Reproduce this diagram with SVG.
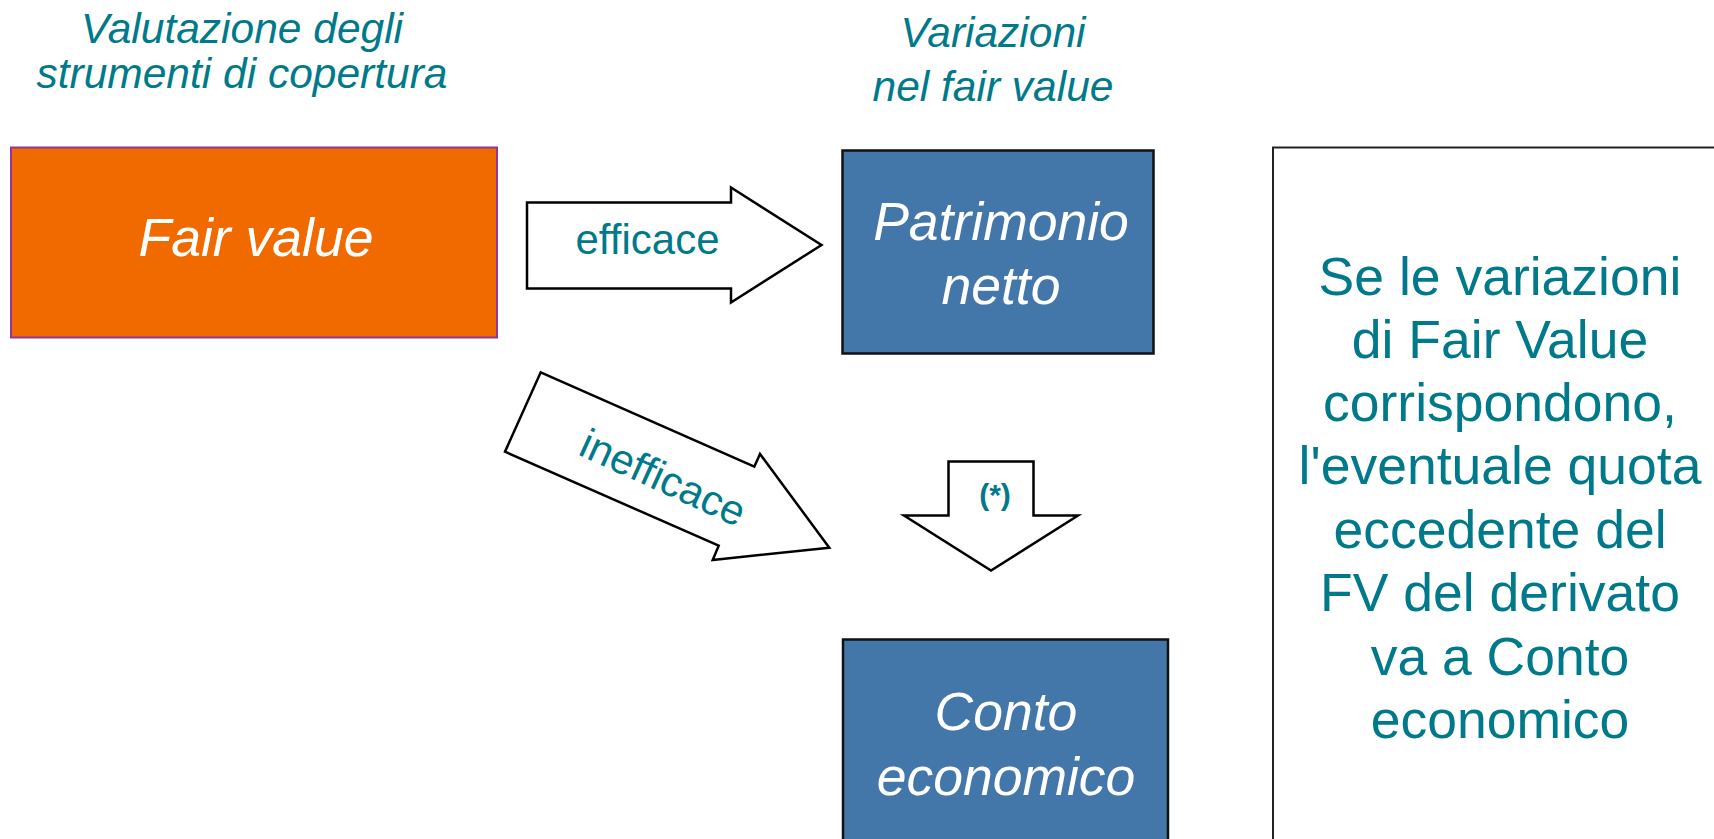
<svg xmlns="http://www.w3.org/2000/svg" width="1714" height="839" viewBox="0 0 1714 839">
  <style>
    .hdr { font-family: "Liberation Sans", Arial, sans-serif; font-style: italic; font-size: 42.5px; fill: #007A8A; text-anchor: middle; }
    .boxtxt { font-family: "Liberation Sans", Arial, sans-serif; font-style: italic; font-size: 53.5px; fill: #FFFFFF; text-anchor: middle; }
    .lbl { font-family: "Liberation Sans", Arial, sans-serif; font-size: 42px; fill: #007A8A; text-anchor: middle; }
    .note { font-family: "Liberation Sans", Arial, sans-serif; font-size: 53.5px; fill: #007A8A; text-anchor: middle; }
    .blue { fill: #4376A9; stroke: #111111; stroke-width: 2.5; }
    .arrow { fill: #FFFFFF; stroke: #000000; stroke-width: 2.5; stroke-linejoin: miter; }
  </style>
  <rect x="0" y="0" width="1714" height="839" fill="#FFFFFF"/>

  <g id="header-left">
    <text class="hdr" x="242" y="43">Valutazione degli</text>
    <text class="hdr" x="242" y="88">strumenti di copertura</text>
  </g>
  <g id="header-right">
    <text class="hdr" x="993" y="47">Variazioni</text>
    <text class="hdr" x="993" y="101">nel fair value</text>
  </g>

  <g id="node-fair-value">
    <rect x="11" y="147.5" width="486" height="190" fill="#F06A00" stroke="#93369A" stroke-width="2"/>
    <text class="boxtxt" x="256" y="256">Fair value</text>
  </g>

  <g id="node-patrimonio">
    <rect class="blue" x="842.5" y="150.5" width="311" height="203"/>
    <text class="boxtxt" x="1001" y="240">Patrimonio</text>
    <text class="boxtxt" x="1001" y="304">netto</text>
  </g>

  <g id="node-conto">
    <rect class="blue" x="843" y="639.5" width="325" height="220"/>
    <text class="boxtxt" x="1006" y="730">Conto</text>
    <text class="boxtxt" x="1006" y="795">economico</text>
  </g>

  <g id="node-note">
    <rect x="1273" y="147.5" width="500" height="760" fill="#FFFFFF" stroke="#222222" stroke-width="2"/>
    <text class="note" x="1500" y="295">Se le variazioni</text>
    <text class="note" x="1500" y="358">di Fair Value</text>
    <text class="note" x="1500" y="421">corrispondono,</text>
    <text class="note" x="1500" y="484">l'eventuale quota</text>
    <text class="note" x="1500" y="548">eccedente del</text>
    <text class="note" x="1500" y="611">FV del derivato</text>
    <text class="note" x="1500" y="675">va a Conto</text>
    <text class="note" x="1500" y="738">economico</text>
  </g>

  <g id="connectors">
    <g id="arrow-efficace">
      <polygon class="arrow" points="527,202.5 731,202.5 731,187.5 821.5,245 731,302.5 731,288.5 527,288.5"/>
      <text class="lbl" x="647.5" y="254">efficace</text>
    </g>
    <g id="arrow-inefficace">
      <polygon class="arrow" points="540.7,372.3 754.3,466.7 760,454 829.3,547.7 712.7,560 718.7,545.7 505,451.7"/>
      <text class="lbl" transform="translate(663,478) rotate(24.5)" x="0" y="14">inefficace</text>
    </g>
    <g id="arrow-star">
      <polygon class="arrow" points="948.5,461.5 1033.5,461.5 1033.5,515.5 1078,515.5 991,570.5 904,515.5 948.5,515.5"/>
      <text x="995" y="505" font-family="Liberation Sans, Arial, sans-serif" font-weight="bold" font-size="30" fill="#007A8A" text-anchor="middle">(*)</text>
    </g>
  </g>
</svg>
